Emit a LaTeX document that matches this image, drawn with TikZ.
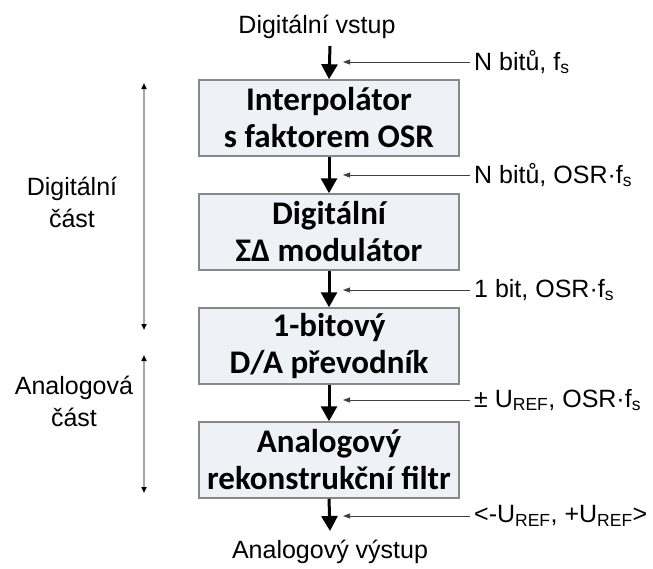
\documentclass[tikz,border=0pt]{standalone}
\usepackage{fontspec}
\setmainfont{Liberation Sans}
\newfontfamily\boxfont{Carlito}[BoldFont={Carlito Bold}]
\usetikzlibrary{arrows.meta}
\definecolor{boxfill}{RGB}{238,241,245}
\definecolor{boxline}{RGB}{136,136,136}
\definecolor{sidegray}{RGB}{165,165,165}
\tikzset{
  blk/.style={draw=boxline, line width=1.5pt, fill=boxfill, minimum width=260pt, minimum height=76pt,
    inner sep=0pt, align=center, font=\boxfont\bfseries\fontsize{33}{37}\selectfont},
  lbl/.style={inner sep=0pt, font=\fontsize{25}{32}\selectfont},
  flow/.style={line width=3pt, -{Triangle[width=16pt,length=15pt]}},
  sig/.style={line width=0.8pt, draw=black!75, shorten <=4pt, -{Triangle[width=5pt,length=7pt]}},
  part/.style={line width=1.6pt, draw=sidegray, {Triangle[width=5pt,length=6pt,color=black]}-{Triangle[width=5pt,length=6pt,color=black]}}
}
\begin{document}
\begin{tikzpicture}[x=1pt,y=-1pt]
\useasboundingbox (0,0) rectangle (653,568);
\node[lbl] (in) at (317,27) {Digitální vstup};
\node[blk] (b1) at (329,118) {Interpolátor\\s faktorem OSR};
\node[blk] (b2) at (329,232) {Digitální\\ΣΔ modulátor};
\node[blk] (b3) at (329,346) {1-bitový\\D/A převodník};
\node[blk] (b4) at (329,460) {Analogový\\rekonstrukční filtr};
\node[lbl] (out) at (330,552) {Analogový výstup};
\coordinate (s0) at (330,46);
\coordinate (e5) at (330,531);
\draw[flow] (s0) -- (b1.north);
\draw[flow] (b1.south) -- (b2.north);
\draw[flow] (b2.south) -- (b3.north);
\draw[flow] (b3.south) -- (b4.north);
\draw[flow] (b4.south) -- (e5);
% signal labels
\node[lbl, anchor=west] (l1) at (474,62) {N bitů, f\textsubscript{s}};
\node[lbl, anchor=west] (l2) at (474,175) {N bitů, OSR·f\textsubscript{s}};
\node[lbl, anchor=west] (l3) at (474,290) {1 bit, OSR·f\textsubscript{s}};
\node[lbl, anchor=west] (l4) at (474,400) {± U\textsubscript{REF}, OSR·f\textsubscript{s}};
\node[lbl, anchor=west] (l5) at (474,516) {<-U\textsubscript{REF}, +U\textsubscript{REF}>};
\coordinate (t1) at (343,62);
\coordinate (t2) at (343,175);
\coordinate (t3) at (343,290);
\coordinate (t4) at (343,400);
\coordinate (t5) at (343,516);
\draw[sig] (l1.west) -- (t1);
\draw[sig] (l2.west) -- (t2);
\draw[sig] (l3.west) -- (t3);
\draw[sig] (l4.west) -- (t4);
\draw[sig] (l5.west) -- (t5);
% parts
\coordinate (d1) at (144,83);
\coordinate (d2) at (144,330);
\coordinate (a1) at (144,355);
\coordinate (a2) at (144,493);
\draw[part] (d1) -- (d2);
\draw[part] (a1) -- (a2);
\node[lbl, align=center] (dig) at (72,202) {Digitální\\část};
\node[lbl, align=center] (ana) at (74,401) {Analogová\\část};
\end{tikzpicture}
\end{document}
